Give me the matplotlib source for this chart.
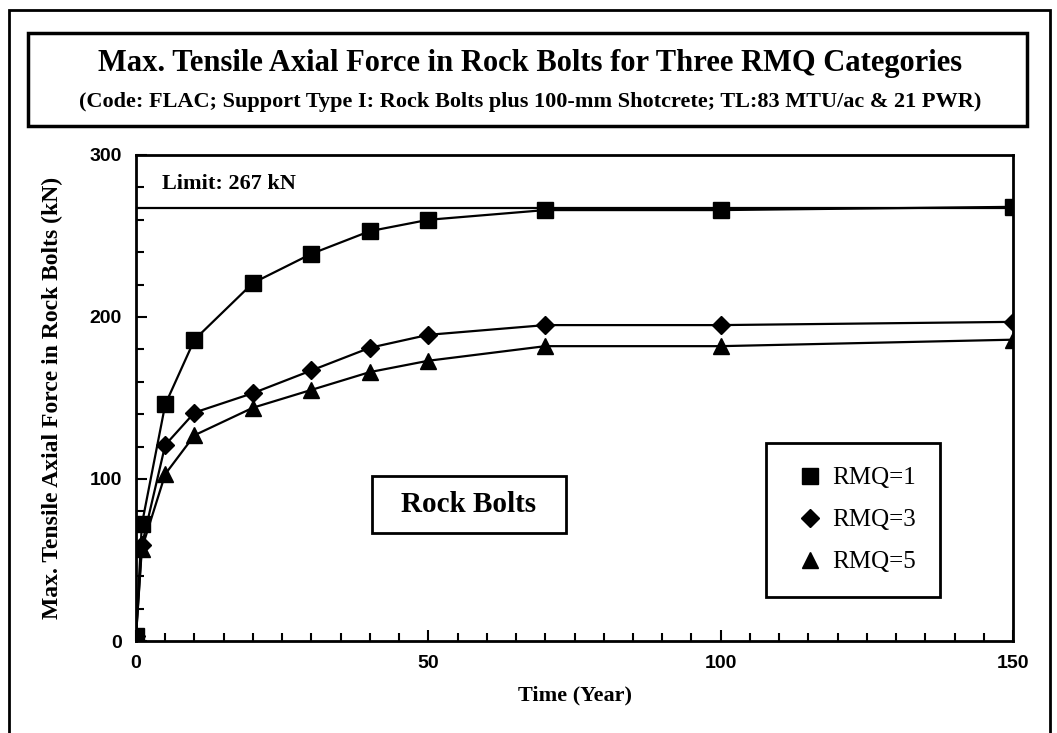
import matplotlib
matplotlib.use("Agg")
import matplotlib.pyplot as plt
from matplotlib.patches import Rectangle
from matplotlib.ticker import MultipleLocator

# data
years = [0, 1, 5, 10, 20, 30, 40, 50, 70, 100, 150]
rmq1 = [3, 72, 146, 186, 221, 239, 253, 260, 266, 266, 268]
rmq3 = [3, 59, 121, 141, 153, 167, 181, 189, 195, 195, 197]
rmq5 = [3, 57, 103, 127, 144, 155, 166, 173, 182, 182, 186]
limit = 267

serif = "Liberation Serif"
sans = "Liberation Sans"

fig = plt.figure(figsize=(10.57, 7.33), dpi=100)
W, H = 1057, 733


def box(x0, y0, x1, y1, lw):
    # rectangle given in pixels from the top-left corner
    fig.patches.append(Rectangle((x0 / W, 1 - y1 / H), (x1 - x0) / W, (y1 - y0) / H,
                                 transform=fig.transFigure, fill=False, lw=lw, ec="black"))


# outer frame and title box
box(9, 10, 1050, 760, 2)
box(28, 33, 1027, 126, 2.5)
fig.text(530 / W, 1 - 64 / H, "Max. Tensile Axial Force in Rock Bolts for Three RMQ Categories",
         ha="center", va="center", family=serif, weight="bold", fontsize=22)
fig.text(530 / W, 1 - 102 / H,
         "(Code: FLAC; Support Type I: Rock Bolts plus 100-mm Shotcrete; TL:83 MTU/ac & 21 PWR)",
         ha="center", va="center", family=serif, weight="bold", fontsize=16)

ax = fig.add_axes([136 / W, 1 - 641 / H, 877 / W, 486 / H])

ax.plot(years, rmq1, "-s", color="black", lw=1.6, ms=12, label="RMQ=1")
ax.plot(years, rmq3, "-D", color="black", lw=1.6, ms=9, label="RMQ=3")
ax.plot(years, rmq5, "-^", color="black", lw=1.6, ms=11, label="RMQ=5")
ax.axhline(limit, color="black", lw=1.6)
ax.text(4.4, 282, "Limit: 267 kN", family=serif, weight="bold", fontsize=16, va="center", ha="left")

ax.set_xlim(0, 150)
ax.set_ylim(0, 300)
ax.xaxis.set_major_locator(MultipleLocator(50))
ax.xaxis.set_minor_locator(MultipleLocator(5))
ax.yaxis.set_major_locator(MultipleLocator(100))
ax.yaxis.set_minor_locator(MultipleLocator(20))
ax.tick_params(which="both", direction="in", width=1.5, top=False, right=False)
ax.tick_params(which="major", length=8, pad=10)
ax.tick_params(which="minor", length=6)
for lab in ax.get_xticklabels() + ax.get_yticklabels():
    lab.set_family(sans)
    lab.set_weight("bold")
    lab.set_fontsize(14)
for sp in ax.spines.values():
    sp.set_linewidth(2)

ax.set_xlabel("Time (Year)", family=serif, weight="bold", fontsize=16, labelpad=10)
ax.set_ylabel("Max. Tensile Axial Force in Rock Bolts (kN)", family=serif, weight="bold",
              fontsize=17, labelpad=19)

# "Rock Bolts" label box
box(372, 476, 566, 533, 2)
fig.text(469 / W, 1 - 504 / H, "Rock Bolts", family=serif, weight="bold", fontsize=21,
         ha="center", va="center")

leg = ax.legend(loc="upper left", bbox_to_anchor=(766 / W, 1 - 443 / H),
                bbox_transform=fig.transFigure,
                prop={"family": serif, "size": 18}, frameon=True, fancybox=False,
                framealpha=1, handlelength=1.6, handletextpad=0.1, labelspacing=0.78,
                borderpad=0.95, borderaxespad=0, markerscale=1.0)
leg.get_frame().set_edgecolor("black")
leg.get_frame().set_linewidth(2)
for h in leg.legend_handles:
    h.set_linestyle("none")

fig.savefig("out.png", dpi=100)
